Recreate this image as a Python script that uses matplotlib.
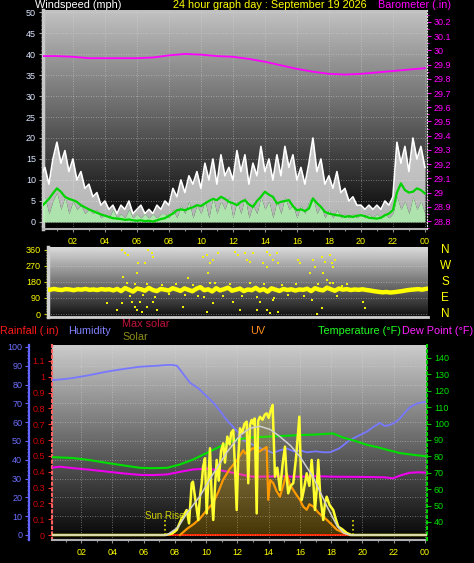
import matplotlib
matplotlib.use("Agg")
import matplotlib.pyplot as plt
import matplotlib.transforms as mtrans
import numpy as np
from matplotlib.ticker import MultipleLocator, FixedLocator, FuncFormatter

NARROW = ['Liberation Sans Narrow', 'Liberation Sans', 'DejaVu Sans']
REG = ['Liberation Sans', 'DejaVu Sans']
plt.rcParams['font.family'] = NARROW

# ---------------- data ----------------
tick_hours = [2, 4, 6, 8, 10, 12, 14, 16, 18, 20, 22, 24]
tick_labels = ['02', '04', '06', '08', '10', '12', '14', '16', '18', '20', '22', '00']

# wind, 15 minute samples
wind_hours = [i * 0.25 for i in range(97)]
gust = [11, 13, 9, 15, 19, 14, 17, 12,
        15, 10, 12, 8, 9, 6, 7, 4,
        5, 3, 4, 2, 4, 3, 5, 2,
        3, 4, 2, 3, 2, 4, 3, 5,
        4, 8, 6, 10, 7, 11, 9, 12,
        8, 14, 10, 15, 9, 16, 11, 13,
        10, 17, 12, 16, 9, 14, 11, 18,
        12, 15, 10, 16, 11, 18, 13, 16,
        10, 13, 9, 14, 20, 12, 15, 9,
        11, 8, 12, 7, 8, 5, 6, 4,
        4, 3, 4, 3, 4, 3, 5, 4,
        6, 19, 14, 18, 12, 20, 15, 18,
        13]
speed = [4, 6, 2, 5, 7, 3, 6, 2,
         5, 3, 4, 2, 3, 2, 3, 1,
         2, 1, 3, 1, 2, 1, 3, 1,
         2, 1, 2, 1, 2, 1, 2, 2,
         1, 3, 1, 4, 2, 5, 1, 4,
         2, 5, 1, 6, 2, 5, 3, 6,
         1, 5, 2, 6, 1, 4, 2, 6,
         3, 5, 1, 5, 2, 6, 3, 4,
         1, 4, 2, 5, 6, 2, 4, 1,
         3, 1, 3, 1, 2, 1, 2, 1,
         2, 1, 2, 1, 2, 1, 2, 1,
         2, 6, 3, 5, 2, 6, 3, 5,
         2]
avg = [3.6, 4.5, 5.5, 6.8, 8.0, 7.2, 6.0, 5.5,
       5.2, 4.8, 4.0, 3.5, 3.0, 2.6, 2.2, 1.8,
       1.5, 1.2, 0.9, 0.8, 0.7, 0.5, 0.6, 0.4,
       0.3, 0.4, 0.2, 0.3, 0.1, 0.4, 0.7, 0.9,
       1.5, 2.0, 2.8, 3.0, 2.8, 3.2, 3.5, 4.0,
       3.8, 4.4, 5.0, 5.5, 5.2, 6.0, 5.5, 4.8,
       4.5, 4.0, 4.8, 5.2, 4.2, 3.6, 5.0, 6.0,
       7.2, 6.5, 6.0, 4.4, 4.8, 5.0, 5.2, 3.8,
       2.8, 3.0, 2.6, 3.2, 5.6, 4.5, 3.6, 2.4,
       2.0, 1.8, 1.6, 1.5, 1.2, 1.4, 1.2, 1.5,
       1.6, 1.4, 1.0, 0.9, 0.8, 1.0, 1.6, 2.0,
       2.8, 7.0, 9.2, 7.6, 7.0, 7.2, 8.0, 7.6,
       6.8]

baro_hours = list(range(25))
baro = [29.96, 29.96, 29.955, 29.945, 29.945, 29.945, 29.945, 29.95, 29.965,
        29.975, 29.97, 29.96, 29.955, 29.94, 29.92, 29.895, 29.87, 29.85,
        29.835, 29.83, 29.835, 29.845, 29.855, 29.865, 29.875]

# wind direction: main band (15 min) and scattered readings
dir_band = [138, 135, 140, 136, 134, 139, 137, 133, 138, 136, 140, 135, 137, 134, 139, 136, 138,
            132, 140, 128, 145, 135, 125, 142, 138, 130, 146, 134, 128, 140, 136, 131, 144,
            137, 129, 143, 135, 127, 141, 150, 133, 138, 126, 144, 132, 139, 147, 130, 136,
            142, 128, 137, 133, 146, 131, 139, 125, 143, 136, 129, 140, 134, 138, 131, 137,
            135, 141, 128, 144, 136, 132, 147, 138, 130, 142, 136, 139, 134, 137, 135, 138,
            134, 131, 127, 124, 121, 123, 120, 122, 125, 128, 132, 135, 137, 139, 136, 140]
dir_pts_h = [4.79, 5.0, 5.21, 5.74, 5.8, 6.26, 6.47, 6.68, 6.78, 4.89, 5.1, 3.84, 4.47,
             4.79, 5.42, 5.63, 5.73, 5.94, 6.05, 6.37, 6.78, 7.0, 8.68, 9.0, 9.94, 10.15,
             10.37, 10.57, 10.89, 10.26, 10.37, 10.57, 10.16, 11.95, 12.16, 12.58, 12.68,
             13.1, 12.9, 11.84, 12.26, 13.32, 13.95, 14.16, 13.73, 13.95, 14.37, 14.58,
             14.68, 13.95, 14.16, 14.68, 13.52, 14.37, 15.94, 16.05, 16.68, 16.89, 17.0,
             17.42, 17.52, 17.63, 17.95, 18.05, 18.26, 18.16, 17.74, 17.95, 17.42, 17.1,
             20.05, 20.16, 16.79,
             5.3, 5.6, 6.1, 6.4, 6.9, 7.3, 7.8, 8.2, 9.3, 9.6, 10.7, 11.2, 11.6, 12.4,
             12.9, 13.3, 13.8, 14.4, 14.9, 15.3, 15.8, 16.3, 17.2, 17.8, 18.1, 18.4,
             18.7, 19.0, 8.8, 10.0]
dir_pts_d = [355, 342, 329, 227, 283, 283, 355, 339, 320, 208, 171, 60, 22,
             60, 69, 41, 22, 69, 13, 41, 69, 22, 41, 199, 320, 329,
             283, 301, 339, 227, 171, 60, 13, 348, 329, 339, 301,
             339, 292, 69, 22, 22, 348, 329, 283, 264, 301, 339,
             283, 22, 4, 13, 69, 78, 301, 283, 227, 301, 264,
             320, 227, 292, 329, 283, 301, 264, 190, 171, 32, 0,
             69, 32, 78,
             100, 165, 105, 170, 95, 160, 110, 168, 160, 100, 175, 98, 165, 102,
             172, 96, 168, 92, 160, 105, 170, 98, 165, 150, 175, 100,
             155, 165, 105, 95]
dir_labels = ['N', 'W', 'S', 'E', 'N']
dir_label_deg = [360, 270, 180, 90, 0]

# bottom panel
rain_hours = [0, 24.3]
rain = [0.0, 0.0]

hum_hours = [0, 0.19, 1.0, 1.47, 2.5, 3.65, 4.7, 5.76, 6.8, 7.6, 7.87, 8.13, 8.5, 8.96,
             9.5, 10.05, 10.5, 10.88, 11.33, 11.71, 12.0, 12.35, 13.0, 13.5, 13.89,
             14.27, 14.7, 15.17, 15.6, 16.0, 16.45, 17.0, 17.5, 17.92, 18.5, 19.2, 19.8,
             20.29, 20.7, 21.12, 21.4, 21.76, 22.1, 22.4, 22.7, 23.04, 23.5, 24.13]
hum = [82, 82.4, 83, 83.5, 85, 86.9, 88.3, 89.5, 90, 90.5, 90.4, 90, 86, 81,
       78, 73.6, 70, 66, 61, 57.6, 55, 50.5, 48, 46, 45,
       43.6, 45, 46, 44.5, 45, 44, 44.5, 44, 44, 46, 50.5, 53,
       55, 57.5, 59.6, 58, 58.5, 60, 62, 65, 68, 70, 71]

temp_hours = [0, 0.19, 1.47, 2.5, 3.65, 4.7, 5.76, 6.5, 7.49, 8.3, 9.15, 10.24, 10.88,
              11.84, 12.8, 13.89, 15.0, 16.0, 17.0, 18.11, 18.75, 19.5, 20.29, 21.0,
              21.57, 22.4, 23.2, 24.13]
temp = [79.5, 79.5, 79, 77.8, 76, 74.5, 73, 72.8, 73, 75, 78, 83, 86,
        90, 91.5, 92, 92.5, 93, 93.3, 94, 91.5, 89.5, 87, 85.5,
        84, 82, 81, 80]

dew_hours = [0, 0.64, 1.5, 2.6, 3.65, 4.7, 5.76, 6.6, 7.49, 8.3, 9.15, 10.05, 10.9, 11.71,
             12.4, 13.0, 14.5, 16.0, 17.0, 18.11, 19.5, 20.5, 21.44, 21.95, 22.5, 23.04,
             23.6, 24.13]
dew = [73, 73.7, 72.8, 71.8, 70.7, 69.6, 68.7, 68.6, 69, 70.5, 72, 72.5, 71.5, 70,
       68.6, 67.6, 67.8, 67.6, 67.9, 67.6, 67.5, 67.4, 67.2, 66.6, 68.6, 70,
       70.3, 70]

solar_hours = [0, 7.36, 7.8, 8.11, 8.4, 8.75, 8.9, 9.07, 9.15, 9.28, 9.49, 9.6, 9.71, 9.8,
               9.92, 10.03, 10.24, 10.35, 10.45, 10.55, 10.67, 10.8, 10.95, 11.09, 11.2,
               11.35, 11.5, 11.6, 11.73, 11.85, 11.95, 12.05, 12.16, 12.3, 12.45, 12.59,
               12.69, 12.8, 12.91, 13.0, 13.1, 13.23, 13.32, 13.44, 13.6, 13.75, 13.87,
               14.0, 14.12, 14.25, 14.4, 14.55, 14.72, 14.9, 15.04, 15.15, 15.25, 15.4,
               15.57, 15.75, 15.96, 16.11, 16.25, 16.43, 16.6, 16.75, 16.85, 16.96, 17.07,
               17.17, 17.3, 17.49, 17.6, 17.71, 17.9, 18.13, 18.3, 18.45, 18.7, 19.0, 19.3,
               24.3]
solar = [0, 0, 10, 39, 120, 193, 90, 400, 412, 296, 116, 300, 400, 528,
         593, 167, 670, 300, 116, 350, 580, 420, 650, 708, 560,
         760, 700, 790, 811, 500, 193, 600, 824, 790, 860, 876,
         400, 850, 889, 860, 900, 167, 880, 914, 890, 930, 940,
         905, 960, 1005, 451, 520, 348, 560, 683, 450, 322, 380,
         400, 600, 914, 270, 350, 477, 380, 580, 420, 193, 350,
         580, 300, 116, 250, 296, 230, 193, 120, 64, 45, 15, 0,
         0]

maxsol_hours = [0, 7.49, 8.2, 8.77, 9.6, 10.43, 11.33, 12.16, 12.8, 13.44, 14.1, 14.72,
                15.4, 16.0, 16.83, 17.73, 18.37, 18.8, 19.2, 24.3]
maxsol = [0, 0, 60, 170, 300, 470, 640, 770, 825, 840, 815, 760,
          690, 605, 450, 220, 70, 15, 0, 0]

uv_hours = [8.32, 8.8, 9.2, 9.6, 10.0, 10.43, 10.8, 11.07, 11.5, 11.97, 12.37, 12.5, 13.0,
            13.4, 13.87, 13.97, 14.1, 14.3, 14.5, 14.72, 15.15, 15.35, 15.57, 15.8, 16.0,
            16.2, 16.43, 16.6, 16.85, 17.2, 17.71, 18.0, 18.35, 18.8, 19.2]
uv = [0, 0.6, 1.0, 1.5, 2.2, 2.9, 4.0, 5.0, 6.0, 6.8, 7.7, 7.4, 7.9,
      7.6, 8.0, 3.2, 5.0, 4.7, 4.0, 3.5, 5.6, 4.6, 4.1, 3.6, 3.2,
      2.6, 2.3, 2.8, 2.6, 2.0, 1.4, 1.0, 0.5, 0.2, 0]

sunrise = 7.36
sunset = 19.41

# ---------------- figure ----------------
W, H = 474, 563
T0 = 0.13
fig = plt.figure(figsize=(W / 100, H / 100), dpi=100, facecolor='black')


def box(l, t, r, b):
    return [l / W, 1 - b / H, (r - l) / W, (b - t) / H]


def gradient(ax, top, bottom):
    g = np.linspace(top, bottom, 256).reshape(-1, 1)
    ax.imshow(g, extent=[0, 1, 0, 1], transform=ax.transAxes, aspect='auto',
              cmap='gray', vmin=0, vmax=1, zorder=0, interpolation='bilinear')


def hour_axis(ax, labels):
    ax.set_xlim(T0, T0 + 24)
    ax.xaxis.set_major_locator(FixedLocator(tick_hours))
    ax.xaxis.set_minor_locator(MultipleLocator(1))
    ax.set_xticklabels(tick_labels if labels else [])
    ax.tick_params(axis='x', which='both', colors='#909090', labelcolor='#ffff00',
                   labelsize=6.5, length=2.5, width=0.8, pad=3)
    ax.tick_params(axis='x', which='minor', length=1.5)


def clean(ax, keep=()):
    for name, sp in ax.spines.items():
        sp.set_visible(name in keep)


fmt_g = FuncFormatter(lambda v, p: f'{round(v, 2):g}')
grid_kw = dict(color='#e0e0e0', linestyle=(0, (1, 2)), linewidth=0.6, alpha=0.55)

# ---- panel 1 : wind + barometer ----
ax1 = fig.add_axes(box(43, 10, 427, 229))
gradient(ax1, 0.76, 0.0)
ax1.fill_between(wind_hours, speed, gust, color='white', alpha=0.7, lw=0, zorder=2)
ax1.plot(wind_hours, gust, color='white', lw=1.2, zorder=3)
ax1.fill_between(wind_hours, 0, speed, color='#b8f0b8', alpha=0.95, lw=0, zorder=4)
ax1.plot(wind_hours, avg, color='#00d400', lw=1.6, zorder=5)
ax1.set_ylim(-1.67, 50.48)
ax1.yaxis.set_major_locator(MultipleLocator(5))
ax1.yaxis.set_minor_locator(MultipleLocator(1))
ax1.tick_params(axis='y', which='both', colors='#a0a0a0', labelcolor='#dce6ff',
                labelsize=6.5, length=3, pad=2)
ax1.tick_params(axis='y', which='minor', length=1.5)
hour_axis(ax1, True)
ax1.grid(True, which='major', **grid_kw)
clean(ax1, ('left', 'bottom'))
ax1.spines['left'].set_color('#c8c8c8')
ax1.spines['left'].set_linewidth(2.5)
ax1.spines['bottom'].set_color('#b0b0b0')
ax1.spines['bottom'].set_linewidth(1.5)

axb = ax1.twinx()
axb.plot(baro_hours, baro, color='#ff00ff', lw=1.3)
axb.set_ylim(28.744, 30.284)
axb.yaxis.set_major_locator(MultipleLocator(0.1))
axb.yaxis.set_minor_locator(MultipleLocator(0.05))
axb.yaxis.set_major_formatter(fmt_g)
axb.tick_params(axis='y', which='both', colors='#ff00ff', labelcolor='#ff00ff',
                labelsize=6.5, length=3, pad=2)
axb.tick_params(axis='y', which='minor', length=1.5)
clean(axb, ('right',))
axb.spines['right'].set_color('#e0e0e0')
axb.spines['right'].set_linestyle(':')

# ---- panel 2 : wind direction ----
ax2 = fig.add_axes(box(48, 247, 428, 317))
gradient(ax2, 0.86, 0.06)
ax2.plot(wind_hours, dir_band, color='#ffff00', lw=3.2, zorder=3)
ax2.scatter(dir_pts_h, dir_pts_d, s=3.5, marker='s', color='#f0f000', lw=0, zorder=4)
ax2.set_xlim(T0, T0 + 24)
ax2.set_ylim(-16.7, 374)
ax2.yaxis.set_major_locator(FixedLocator([0, 90, 180, 270, 360]))
ax2.yaxis.set_minor_locator(MultipleLocator(15))
ax2.tick_params(axis='y', which='both', colors='#c8c800', labelcolor='#ffff00',
                labelsize=6.5, length=3, pad=2)
ax2.tick_params(axis='y', which='minor', length=1.5)
ax2.tick_params(axis='x', which='both', length=0, labelbottom=False)
ax2.xaxis.set_major_locator(FixedLocator(tick_hours))
ax2.grid(True, axis='y', **grid_kw)
clean(ax2, ('left', 'bottom'))
ax2.spines['left'].set_color('#d0d0d0')
ax2.spines['left'].set_linewidth(2.5)
ax2.spines['bottom'].set_color('#d0d0d0')
ax2.spines['bottom'].set_linewidth(2)
tr2 = mtrans.blended_transform_factory(ax2.transAxes, ax2.transData)
for lab, deg in zip(dir_labels, dir_label_deg):
    ax2.text(1.045, deg, lab, transform=tr2, color='#ffff00', fontsize=8.5,
             family=REG, ha='center', va='center')

# ---- panel 3 : rain, humidity, solar, uv, temperature ----
ax3 = fig.add_axes(box(52, 345, 427, 540))
gradient(ax3, 0.80, 0.02)
ax3.plot(rain_hours, rain, color='#ff0000', lw=1.4, zorder=3)
ax3.set_ylim(-0.0316, 1.201)
ax3.yaxis.set_major_locator(FixedLocator([i / 10 for i in range(12)]))
ax3.yaxis.set_major_formatter(fmt_g)
ax3.tick_params(axis='y', colors='#ff3030', labelcolor='#d00000', labelsize=6.5,
                length=3, pad=2)
hour_axis(ax3, True)
clean(ax3, ('left', 'bottom'))
ax3.spines['left'].set_color('#ff6060')
ax3.spines['left'].set_linestyle(':')
ax3.spines['left'].set_linewidth(1.5)
ax3.spines['bottom'].set_color('#b0b0b0')
ax3.spines['bottom'].set_linewidth(1.5)

axh = ax3.twinx()
axh.yaxis.tick_left()
axh.plot(hum_hours, hum, color='#7878ff', lw=1.3)
axh.set_ylim(-2.66, 101.06)
axh.yaxis.set_major_locator(MultipleLocator(10))
axh.yaxis.set_minor_locator(MultipleLocator(2))
axh.tick_params(axis='y', which='both', colors='#6464ff', labelcolor='#6e6eff',
                labelsize=6.5, length=3, pad=2)
axh.tick_params(axis='y', which='minor', length=1.5)
axh.grid(True, axis='y', **grid_kw)
ax3.grid(True, axis='x', **grid_kw)
clean(axh, ('left',))
axh.spines['left'].set_position(('outward', 16.5))
axh.spines['left'].set_color('#6464ff')
axh.spines['left'].set_linewidth(1.6)

axt = ax3.twinx()
axt.plot(temp_hours, temp, color='#00e000', lw=1.5)
axt.plot(dew_hours, dew, color='#ee00ee', lw=1.5)
axt.set_ylim(29.0, 147.9)
axt.yaxis.set_major_locator(FixedLocator(list(range(40, 141, 10))))
axt.tick_params(axis='y', colors='#00c000', labelcolor='#00e000', labelsize=6.5,
                length=3, pad=2)
clean(axt, ('right',))
axt.spines['right'].set_color('#00d000')
axt.spines['right'].set_linestyle(':')
axt.spines['right'].set_linewidth(1.5)

axu = ax3.twinx()
axu.fill_between(uv_hours, 0, uv, color='#ff8000', alpha=0.15, lw=0)
axu.plot(uv_hours, uv, color='#ff8c00', lw=1.6)
axu.set_ylim(-0.45, 17.27)
axu.axis('off')

axs = ax3.twinx()
axs.fill_between(solar_hours, 0, solar, color='#ffff00', alpha=0.12, lw=0)
axs.plot(maxsol_hours, maxsol, color='#d0d0d0', lw=1.1, zorder=4)
axs.plot(solar_hours, solar, color='#ffff30', lw=1.8, zorder=3)
axs.plot([sunrise, sunrise], [0, 139], color='#e8e800', ls=':', lw=1.2)
axs.plot([sunset, sunset], [0, 116], color='#e8e800', ls=':', lw=1.2)
axs.text(sunrise, 150, 'Sun Rise', color='#d4d400', fontsize=7, family=REG,
         ha='center', va='center')
axs.set_ylim(-38.6, 1468)
axs.axis('off')

# ---- titles and legend row ----
def ftext(x, y, s, color, size=7.8, ha='left'):
    fig.text(x / W, 1 - y / H, s, color=color, fontsize=size, family=REG,
             ha=ha, va='center')


ftext(35, 5, 'Windspeed (mph)', 'white')
ftext(270, 5, '24 hour graph day : September 19 2026', '#ffff00', ha='center')
ftext(378, 5, 'Barometer (.in)', '#ff00ff')
ftext(0, 331, 'Rainfall (.in)', '#ff1a1a')
ftext(68, 331, 'Humidity', '#8080ff')
ftext(122, 324, 'Max solar', '#c0143c')
ftext(122, 337, 'Solar', '#8c8c1a')
ftext(250, 331, 'UV', '#ff8c1a')
ftext(318, 331, 'Temperature (°F)', '#22ff22')
ftext(402, 331, 'Dew Point (°F)', '#ff22ff')

fig.savefig('out.png', dpi=100, facecolor='black')
